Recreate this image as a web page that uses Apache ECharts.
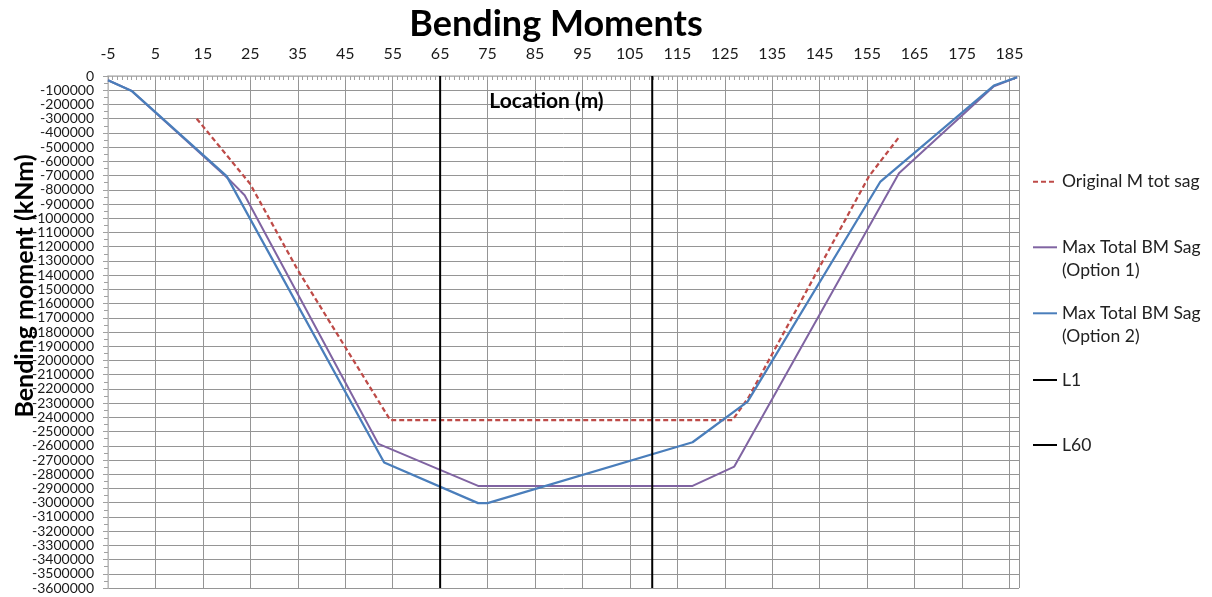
<!DOCTYPE html>
<html>
<head>
<meta charset="utf-8">
<script src="https://cdn.jsdelivr.net/npm/echarts@6/dist/echarts.min.js"></script>
<style>
html,body{margin:0;padding:0;background:#fff;}
#chart{width:1212px;height:597px;}
</style>
</head>
<body>
<div id="chart"></div>
<script>
// ---- data (location in m, bending moment in kNm) ----
const xTickLabels = [-5, 5, 15, 25, 35, 45, 55, 65, 75, 85, 95, 105, 115, 125, 135, 145, 155, 165, 175, 185];

const origX = [13.7, 24.9, 35, 54.5, 126.6, 130, 155.4, 161.8];
const origY = [-300000, -756000, -1365000, -2420000, -2420000, -2260000, -704000, -426000];

const opt1X = [-5, 0, 20.3, 23.8, 52, 73, 118.2, 127, 161.7, 181.7, 186.6];
const opt1Y = [-30000, -105000, -720000, -838000, -2587000, -2882000, -2882000, -2746000, -683000, -72000, -9000];

const opt2X = [-5, 0, 20, 53.2, 73, 75, 118.2, 129.8, 157.8, 181.7, 186.6];
const opt2Y = [-30000, -105000, -704000, -2718000, -3003000, -3003000, -2575000, -2289000, -742000, -67000, -9000];

const l1X = [65, 65];
const l1Y = [0, -3600000];
const l60X = [109.7, 109.7];
const l60Y = [0, -3600000];

const seriesNames = ['Original M tot sag', 'Max Total BM Sag (Option 1)', 'Max Total BM Sag (Option 2)', 'L1', 'L60'];

function pairs(xs, ys) { return xs.map((x, i) => [x, ys[i]]); }

const FONT = 'Lato, "Open Sans", sans-serif';
const chart = echarts.init(document.getElementById('chart'), null, {renderer: 'canvas'});

const SOLID_ICON = 'path://M0,0H24V2H0Z';
const DASH_ICON = 'path://M0,0H5V2H0Z M8,0H13V2H8Z M16,0H21V2H16Z M24,0H24.01V2H24Z';

function legendAt(name, top, icon) {
  return {
    data: [{name: name, icon: icon}],
    orient: 'vertical',
    left: 1028,
    top: top,
    itemWidth: 24,
    itemHeight: 2,
    selectedMode: false,
    formatter: n => (n.indexOf(' (') > 0 ? '\n' + n.replace(' (', '\n(') : n),
    textStyle: {fontFamily: FONT, fontSize: 17.5, color: '#222', lineHeight: 23}
  };
}

const option = {
  animation: false,
  backgroundColor: '#fff',
  title: {
    text: 'Bending Moments',
    left: 551,
    textAlign: 'center',
    top: 1,
    textStyle: {fontFamily: FONT, fontSize: 36, fontWeight: 'bold', color: '#000'}
  },
  legend: [
    legendAt(seriesNames[0], 165.2, DASH_ICON),
    legendAt(seriesNames[1], 207.8, SOLID_ICON),
    legendAt(seriesNames[2], 273.8, SOLID_ICON),
    legendAt(seriesNames[3], 363.5, SOLID_ICON),
    legendAt(seriesNames[4], 428.5, SOLID_ICON)
  ],
  grid: {left: 108, right: 193, top: 76, bottom: 9, containLabel: false, outerBoundsMode: 'none'},
  xAxis: {
    type: 'value',
    position: 'top',
    min: -5,
    max: 187,
    interval: 10,
    name: 'Location (m)',
    nameLocation: 'middle',
    nameGap: -36,
    nameMoveOverlap: false,
    nameTextStyle: {fontFamily: FONT, fontSize: 21, fontWeight: 'bold', color: '#000', padding: [0, 34, 0, 0]},
    axisLine: {show: true, onZero: false, lineStyle: {color: '#c0c0c0', width: 1.5}},
    axisTick: {show: true, inside: true, length: 4, lineStyle: {color: '#a0a0a0'}},
    minorTick: {show: true, splitNumber: 10, length: 4, lineStyle: {color: '#a0a0a0'}},
    axisLabel: {
      fontFamily: FONT, fontSize: 16, color: '#1a1a1a', margin: 14,
      showMaxLabel: false,
      formatter: v => (xTickLabels.indexOf(v) >= 0 ? String(v) : '')
    },
    splitLine: {show: true, lineStyle: {color: '#959595', width: 1}}
  },
  yAxis: {
    type: 'value',
    min: -3600000,
    max: 0,
    interval: 100000,
    name: 'Bending moment (kNm)',
    nameLocation: 'middle',
    nameRotate: 90,
    nameGap: 71,
    nameMoveOverlap: false,
    nameTextStyle: {fontFamily: FONT, fontSize: 25, fontWeight: 'bold', color: '#000', padding: [0, 0, 0, 92]},
    axisLine: {show: true, onZero: false, lineStyle: {color: '#c8c8c8', width: 1.5}},
    axisTick: {show: true, length: 5, lineStyle: {color: '#a0a0a0'}},
    minorTick: {show: true, splitNumber: 2, length: 4, lineStyle: {color: '#a0a0a0'}},
    axisLabel: {fontFamily: FONT, fontSize: 14, color: '#1a1a1a', margin: 14, formatter: v => String(v)},
    splitLine: {show: true, lineStyle: {color: '#959595', width: 1}}
  },
  series: [
    {
      name: seriesNames[0], type: 'line', showSymbol: false, symbol: 'none',
      data: pairs(origX, origY),
      lineStyle: {color: '#BE4B48', width: 2.25, type: [5, 3]},
      itemStyle: {color: '#BE4B48'}
    },
    {
      name: seriesNames[1], type: 'line', showSymbol: false, symbol: 'none',
      data: pairs(opt1X, opt1Y),
      lineStyle: {color: '#8064A2', width: 2},
      itemStyle: {color: '#8064A2'}
    },
    {
      name: seriesNames[2], type: 'line', showSymbol: false, symbol: 'none',
      data: pairs(opt2X, opt2Y),
      lineStyle: {color: '#4A7EBB', width: 2.25},
      itemStyle: {color: '#4A7EBB'}
    },
    {
      name: seriesNames[3], type: 'line', showSymbol: false, symbol: 'none',
      data: pairs(l1X, l1Y),
      lineStyle: {color: '#000', width: 2},
      itemStyle: {color: '#000'}
    },
    {
      name: seriesNames[4], type: 'line', showSymbol: false, symbol: 'none',
      data: pairs(l60X, l60Y),
      lineStyle: {color: '#000', width: 2},
      itemStyle: {color: '#000'}
    }
  ]
};
chart.setOption(option);
</script>
</body>
</html>
